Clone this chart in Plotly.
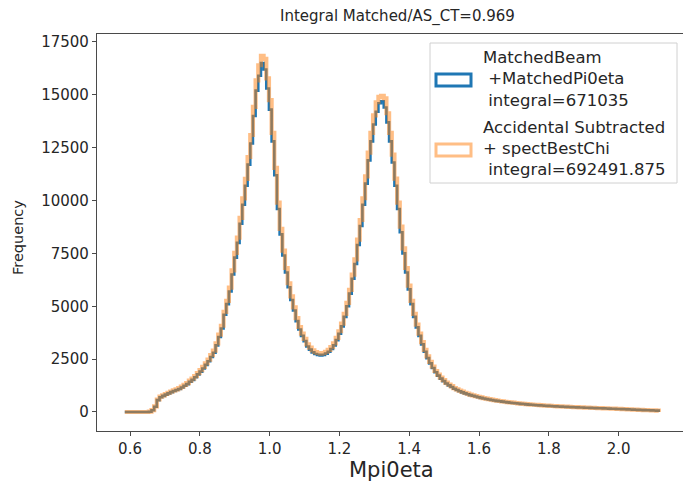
import numpy as np
import plotly.graph_objects as go

# Histogram binning (200 equal bins over the Mpi0eta range)
HIST_RANGE = (0.585, 2.115)
N_BINS = 200

# Counts per bin: MatchedBeam + MatchedPi0eta
matched_counts = [
    0, 0, 0, 0, 0, 0, 0, 0, 0, 10,
    80, 250, 560, 700, 760, 820, 880, 940, 990, 1040,
    1090, 1160, 1240, 1320, 1430, 1520, 1640, 1780, 1910, 2060,
    2230, 2400, 2600, 2800, 3150, 3550, 3950, 4600, 5100, 5700,
    6500, 7300, 8000, 8900, 9800, 10700, 11700, 12700, 14000, 15200,
    15900, 16500, 16200, 15300, 14300, 12800, 11200, 9600, 8400, 7400,
    6600, 5900, 5300, 4800, 4300, 3900, 3600, 3350, 3100, 2950,
    2820, 2740, 2700, 2680, 2700, 2760, 2850, 2980, 3150, 3400,
    3700, 4050, 4500, 5000, 5600, 6300, 7000, 7900, 8800, 9800,
    10800, 11900, 12800, 13600, 14200, 14600, 14700, 14400, 13700, 12800,
    11800, 10700, 9600, 8500, 7500, 6600, 5800, 5100, 4500, 4000,
    3600, 3200, 2850, 2550, 2300, 2080, 1880, 1720, 1580, 1460,
    1350, 1260, 1180, 1100, 1040, 980, 930, 880, 840, 800,
    765, 730, 700, 670, 640, 615, 590, 565, 545, 525,
    505, 490, 470, 455, 440, 425, 410, 400, 385, 375,
    362, 350, 340, 332, 322, 312, 305, 296, 288, 281,
    274, 267, 260, 254, 248, 243, 236, 230, 224, 219,
    214, 209, 204, 199, 194, 189, 184, 179, 175, 170,
    165, 160, 155, 150, 145, 140, 134, 128, 122, 117,
    111, 106, 100, 95, 90, 85, 80, 75, 70, 66,
]

# Counts per bin: Accidental Subtracted + spectBestChi
acc_sub_counts = [
    0, 0, 0, 0, 0, 0, 0, 0, 0, 15,
    90, 270, 590, 730, 790, 850, 910, 970, 1020, 1070,
    1130, 1200, 1280, 1370, 1480, 1580, 1700, 1840, 1980, 2130,
    2300, 2480, 2690, 2900, 3250, 3660, 4080, 4740, 5260, 5880,
    6700, 7530, 8250, 9180, 10100, 11030, 12060, 13100, 14430, 15680,
    16400, 16850, 16700, 15780, 14750, 13200, 11550, 9900, 8660, 7630,
    6810, 6090, 5470, 4950, 4440, 4020, 3710, 3460, 3200, 3040,
    2910, 2830, 2790, 2760, 2790, 2850, 2940, 3070, 3250, 3510,
    3820, 4180, 4640, 5160, 5780, 6500, 7220, 8150, 9080, 10110,
    11140, 12270, 13200, 14030, 14650, 14900, 14950, 14830, 14130, 13200,
    12170, 11040, 9900, 8770, 7740, 6810, 5980, 5260, 4640, 4130,
    3710, 3300, 2940, 2630, 2370, 2150, 1940, 1770, 1630, 1510,
    1390, 1300, 1220, 1130, 1070, 1010, 960, 910, 870, 825,
    790, 755, 720, 690, 660, 635, 610, 585, 560, 540,
    520, 505, 485, 470, 455, 440, 425, 412, 398, 387,
    374, 361, 351, 342, 332, 322, 315, 305, 297, 290,
    283, 275, 268, 262, 256, 251, 243, 237, 231, 226,
    221, 216, 210, 205, 200, 195, 190, 185, 180, 175,
    170, 165, 160, 155, 150, 144, 138, 132, 126, 121,
    115, 109, 103, 98, 93, 88, 83, 78, 72, 68,
]

matched_label = ["MatchedBeam", " +MatchedPi0eta", " integral=671035"]
acc_sub_label = ["Accidental Subtracted", "+ spectBestChi", " integral=692491.875"]
title_text = "Integral Matched/AS_CT=0.969"
x_title = "Mpi0eta"
y_title = "Frequency"

x_ticks = [0.6, 0.8, 1.0, 1.2, 1.4, 1.6, 1.8, 2.0]
y_ticks = [0, 2500, 5000, 7500, 10000, 12500, 15000, 17500]

BLUE = "#1f77b4"
ORANGE = "#ff7f0e"
FONT = "DejaVu Sans"

assert len(matched_counts) == N_BINS and len(acc_sub_counts) == N_BINS
edges = np.linspace(HIST_RANGE[0], HIST_RANGE[1], N_BINS + 1)


def step_outline(counts):
    """Outline of a step histogram, starting and ending at zero."""
    xs = [edges[0]] + list(edges[:-1]) + [edges[-1], edges[-1]]
    ys = [0] + list(counts) + [counts[-1], 0]
    return xs, ys


fig = go.Figure()
for counts, color, width, opacity in [
    (matched_counts, BLUE, 2.6, 1.0),
    (acc_sub_counts, ORANGE, 4.2, 0.5),
]:
    xs, ys = step_outline(counts)
    fig.add_trace(go.Scatter(
        x=xs, y=ys, mode="lines", line=dict(color=color, width=width, shape="hv"),
        opacity=opacity, showlegend=False, hoverinfo="skip",
    ))

W, H = 683, 486
L, R, T, B = 97, 0, 34, 55
plot_w, plot_h = W - L - R, H - T - B


def px_x(px):
    return (px - L) / plot_w


def px_y(py):
    return (H - B - py) / plot_h


axis_common = dict(
    showline=True, linecolor="#4a4a4a", linewidth=1.2, mirror=True,
    ticks="outside", ticklen=4, tickcolor="#4a4a4a", tickwidth=1,
    showgrid=False, zeroline=False,
    tickfont=dict(family=FONT, size=15, color="#262626"),
)

fig.update_layout(
    width=W, height=H,
    margin=dict(l=L, r=R, t=T, b=B),
    paper_bgcolor="white", plot_bgcolor="white",
    font=dict(family=FONT, color="#262626"),
    xaxis=dict(range=[0.5054, 2.1845], tickvals=x_ticks, tickformat=".1f", **axis_common),
    yaxis=dict(range=[-899, 17878], tickvals=y_ticks, tickformat="d", **axis_common),
)

annotations = [
    dict(text=title_text, x=px_x(397), y=px_y(17), font=dict(size=15)),
    dict(text=x_title, x=px_x(391), y=px_y(470), font=dict(size=21)),
    dict(text=y_title, x=px_x(18), y=px_y(238), font=dict(size=14.5), textangle=-90),
]
for a in annotations:
    a.update(xref="paper", yref="paper", showarrow=False, xanchor="center", yanchor="middle")

# Legend box with hollow patches
shapes = [
    dict(type="rect", xref="paper", yref="paper",
         x0=px_x(430), x1=px_x(677), y0=px_y(183), y1=px_y(43),
         line=dict(color="#d0d0d0", width=1), fillcolor="rgba(255,255,255,0.85)"),
    dict(type="rect", xref="paper", yref="paper",
         x0=px_x(436), x1=px_x(471), y0=px_y(86), y1=px_y(74),
         line=dict(color=BLUE, width=3), fillcolor="rgba(0,0,0,0)"),
    dict(type="rect", xref="paper", yref="paper",
         x0=px_x(436), x1=px_x(471), y0=px_y(156), y1=px_y(144),
         line=dict(color=ORANGE, width=3), fillcolor="rgba(0,0,0,0)", opacity=0.5),
]
for lines, y0 in [(matched_label, 57), (acc_sub_label, 127)]:
    for k, line in enumerate(lines):
        annotations.append(dict(
            text=line.replace(" ", "&nbsp;", 1) if line.startswith(" ") else line,
            xref="paper", yref="paper", x=px_x(481), y=px_y(y0 + 21.5 * k),
            xanchor="left", yanchor="middle", showarrow=False,
            font=dict(size=16.5, color="#262626"),
        ))

fig.update_layout(annotations=annotations, shapes=shapes)
fig.write_html("out.html")
